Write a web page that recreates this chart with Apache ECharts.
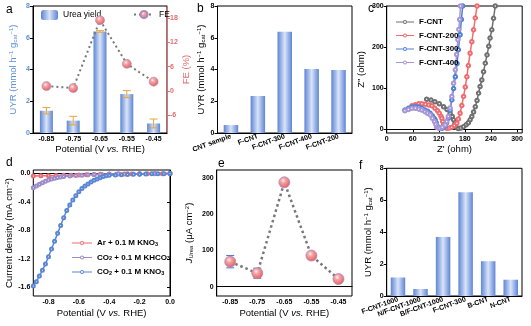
<!DOCTYPE html>
<html>
<head>
<meta charset="utf-8">
<script src="https://cdn.jsdelivr.net/npm/echarts@6/dist/echarts.min.js"></script>
<style>
  html, body { margin: 0; padding: 0; background: #fff; }
  #chart { width: 531px; height: 326px; }
</style>
</head>
<body>
<div id="chart"></div>
<script>
// ---------- data ----------
// (a) urea yield rate and Faradaic efficiency vs. potential on F-CNT-300
const potentials = ['-0.85', '-0.75', '-0.65', '-0.55', '-0.45'];
const ureaYield = [1.40, 0.78, 6.40, 2.45, 0.60];
const ureaYieldErr = [0.20, 0.27, 0.05, 0.22, 0.28];
const faradaicEff = [1.2, 0.7, 17.5, 6.7, 2.3];
const faradaicErr = [0.4, 0.4, 0.5, 0.4, 0.4];
const feTicks = [-6, 0, 6, 12, 18];

// (b) urea yield rate of the CNT series at -0.65 V
const samplesB = ['CNT sample', 'F-CNT', 'F-CNT-300', 'F-CNT-400', 'F-CNT-200'];
const uyrB = [0.50, 2.33, 6.38, 4.03, 3.97];

// (c) Nyquist plots, [Z', Z'']
const nyqFCNT = [[92,73],[102,71],[111,67],[121,62],[131,55],[139,48],[146,39],[151,31],[154,23],[157,14],[158,8],[161,4],[165,2],[171,3],[177,6.5],[183,11],[188,16],[192,23],[196,31],[200,42],[204,55],[208,70],[211.5,88],[215,104],[219,120],[223,140],[227,161],[231,181],[235,202],[238,222],[242,242],[246,270],[250,300]];
const nyqFCNT200 = [[58,57],[66,60],[74,62],[81,62],[89,61],[97,59],[104,57],[111,51],[117,45],[121,39],[125,32],[127,27],[129,19],[131,10.5],[134,5],[138.5,2.4],[144,3],[150,5],[156,9],[161.5,14.6],[165,25],[169,39],[173,58],[177,80],[181,103],[184.6,128],[188,155],[192,185],[196,213],[200,242],[204,271],[208,300]];
const nyqFCNT300 = [[42,47],[50,51],[58,54],[66,55],[74,54],[81,51],[88,47],[94,44],[100,39],[105,33],[109,27],[111.5,23],[114,16],[117.7,6.5],[122,3],[127,2.4],[131,4],[134.6,8],[138,16],[142,27],[146,46],[150,71.5],[154,99],[158,128],[162,160],[165,193.5],[169,230],[172,267],[175,300]];
const nyqFCNT400 = [[42,45],[50,48],[58,51],[66,51],[74,49],[81,47],[88,43],[94,39],[100,35],[105,27],[110,19],[113,12],[115,5],[119,3],[123,2.4],[128,5],[134.6,10.6],[138,19],[142,31],[146,52],[150,79.7],[154,112],[158,144.7],[161,182],[164,218],[166,243],[168,267],[170,300]];
const zReTicks = [0, 60, 120, 180, 240, 300];
const zImTicks = [0, 100, 200, 300];

// (d) LSV curves, [potential, current density]
const lsvAr = [[-0.9,-0.035],[-0.85,-0.032],[-0.8,-0.03],[-0.75,-0.028],[-0.7,-0.025],[-0.65,-0.022],[-0.6,-0.02],[-0.55,-0.017],[-0.5,-0.014],[-0.45,-0.012],[-0.4,-0.01],[-0.35,-0.008],[-0.3,-0.006],[-0.25,-0.005],[-0.2,-0.004],[-0.15,-0.003],[-0.1,-0.002],[-0.05,-0.001],[0,0]];
const lsvKHCO3 = [[-0.9,-0.2],[-0.88,-0.175],[-0.86,-0.15],[-0.84,-0.128],[-0.82,-0.108],[-0.8,-0.092],[-0.78,-0.078],[-0.76,-0.066],[-0.74,-0.056],[-0.72,-0.048],[-0.7,-0.042],[-0.66,-0.034],[-0.62,-0.028],[-0.58,-0.022],[-0.54,-0.018],[-0.5,-0.014],[-0.46,-0.01],[-0.4,-0.006],[-0.34,-0.004],[-0.28,-0.002],[-0.2,-0.001],[-0.1,0],[0,0]];
const lsvKNO3 = [[-0.9,-1.58],[-0.88,-1.52],[-0.86,-1.44],[-0.84,-1.36],[-0.82,-1.27],[-0.8,-1.17],[-0.78,-1.06],[-0.76,-0.95],[-0.74,-0.84],[-0.72,-0.73],[-0.7,-0.62],[-0.68,-0.52],[-0.66,-0.44],[-0.64,-0.37],[-0.62,-0.31],[-0.6,-0.255],[-0.58,-0.21],[-0.56,-0.175],[-0.54,-0.145],[-0.52,-0.12],[-0.5,-0.095],[-0.48,-0.075],[-0.46,-0.058],[-0.44,-0.043],[-0.42,-0.032],[-0.4,-0.025],[-0.36,-0.02],[-0.32,-0.015],[-0.28,-0.012],[-0.24,-0.01],[-0.2,-0.008],[-0.16,-0.006],[-0.12,-0.004],[-0.08,-0.003],[-0.04,-0.001],[0,0]];
const potTicks = [-0.8, -0.6, -0.4, -0.2, 0];
const currentTicks = [-1.6, -1.2, -0.8, -0.4, 0];

// (e) partial current density of urea
const jUrea = [69, 37, 289, 86, 21];
const jUreaErr = [17, 14, 4, 4, 3];
const jTicks = [0, 100, 200, 300];

// (f) urea yield rate of doped CNTs
const samplesF = ['F-CNT-1000', 'N/F-CNT-1000', 'B/F-CNT-1000', 'F-CNT-300', 'B-CNT', 'N-CNT'];
const uyrF = [1.16, 0.44, 3.70, 6.50, 2.18, 1.02];

// ---------- styles ----------
const FONT = '"Liberation Sans", Arial, sans-serif';
const BLUE_AX = '#5b8ed8';
const RED_AX = '#e46c6c';

const barFill = {
  type: 'linear', x: 0, y: 0, x2: 1, y2: 0,
  colorStops: [
    { offset: 0, color: '#5d85d5' },
    { offset: 0.5, color: '#d9e4f8' },
    { offset: 1, color: '#5d85d5' }
  ]
};
const sphere = {
  type: 'radial', x: 0.4, y: 0.35, r: 0.7,
  colorStops: [
    { offset: 0, color: '#fff0f0' },
    { offset: 0.3, color: '#f5a2a2' },
    { offset: 1, color: '#e0575c' }
  ]
};

// legend glyph: short line segments with a small hollow ring in the middle
function lineRingIcon(w) {
  const c = w / 2;
  return 'path://' +
    'M0,2.4 H' + (c - 2) + ' V3.6 H0 Z ' +
    'M' + (c + 2) + ',2.4 H' + w + ' V3.6 H' + (c + 2) + ' Z ' +
    'M' + (c + 2) + ',3 A2,2 0 1 1 ' + (c - 2) + ',3 A2,2 0 1 1 ' + (c + 2) + ',3 Z ' +
    'M' + (c + 1) + ',3 A1,1 0 1 0 ' + (c - 1) + ',3 A1,1 0 1 0 ' + (c + 1) + ',3 Z';
}

function rich(color) {
  return {
    n: { fontSize: 9.5, fontFamily: FONT, color: color },
    it: { fontSize: 9.5, fontFamily: FONT, fontStyle: 'italic', color: color },
    sup: { fontSize: 6, fontFamily: FONT, color: color, verticalAlign: 'top', lineHeight: 8 },
    sub: { fontSize: 6, fontFamily: FONT, color: color, verticalAlign: 'bottom', lineHeight: 6 }
  };
}
const uyrName = '{n|UYR (mmol h}{sup|−1}{n| g}{sub|cat}{sup|−1}{n|)}';
const potName = '{n|Potential (V }{it|vs.}{n| RHE)}';

function tickLabel(color, extra) {
  return Object.assign({ fontSize: 7, fontWeight: 'bold', fontFamily: FONT, color: color || '#000', margin: 3 }, extra || {});
}
const blackLine = { lineStyle: { color: '#000', width: 1 } };
const outTick = { inside: false, length: 3, lineStyle: { color: '#000', width: 1 } };

function catAxis(grid, data, extra) {
  return Object.assign({
    type: 'category', gridIndex: grid, data: data, boundaryGap: true,
    axisLine: blackLine, axisTick: Object.assign({ alignWithLabel: true }, outTick),
    axisLabel: tickLabel('#000', { interval: 0 }), splitLine: { show: false }
  }, extra || {});
}
function valAxis(grid, extra) {
  return Object.assign({
    type: 'value', gridIndex: grid,
    axisLine: Object.assign({ show: true }, blackLine), axisTick: Object.assign({ show: true }, outTick),
    axisLabel: tickLabel(), splitLine: { show: false }
  }, extra || {});
}

function errorBars(color, capHalf) {
  return function (params, api) {
    const x = api.value(0), v = api.value(1), e = api.value(2);
    const hi = api.coord([x, v + e]), lo = api.coord([x, v - e]);
    const style = { stroke: color, lineWidth: 1 };
    return {
      type: 'group', children: [
        { type: 'line', shape: { x1: hi[0], y1: hi[1], x2: lo[0], y2: lo[1] }, style: style },
        { type: 'line', shape: { x1: hi[0] - capHalf, y1: hi[1], x2: hi[0] + capHalf, y2: hi[1] }, style: style },
        { type: 'line', shape: { x1: lo[0] - capHalf, y1: lo[1], x2: lo[0] + capHalf, y2: lo[1] }, style: style }
      ]
    };
  };
}

function nyquist(name, data, color) {
  return {
    name: name, type: 'line', xAxisIndex: 2, yAxisIndex: 3, data: data,
    symbol: 'emptyCircle', symbolSize: 3.5, showSymbol: true,
    lineStyle: { color: color, width: 1.5 }, itemStyle: { color: color, borderWidth: 1 },
    clip: true
  };
}
function lsv(name, data, color) {
  return {
    name: name, type: 'line', xAxisIndex: 3, yAxisIndex: 4, data: data,
    symbol: 'emptyCircle', symbolSize: 3, showSymbol: true,
    lineStyle: { color: color, width: 1.5 }, itemStyle: { color: color, borderWidth: 1 }
  };
}

const grids = [
  { left: 33, top: 6, width: 134, height: 127 },
  { left: 217.5, top: 6, width: 134.5, height: 127 },
  { left: 386.7, top: 6, width: 135.5, height: 127 },
  { left: 33.3, top: 170, width: 136.7, height: 126 },
  { left: 216.7, top: 170, width: 135.3, height: 126 },
  { left: 386.7, top: 168.3, width: 135.3, height: 127.7 }
].map(g => Object.assign({ show: true, borderColor: '#000', borderWidth: 1, backgroundColor: 'transparent' }, g));

const panelLetters = [['a', 6, 4], ['b', 197, 3], ['c', 368, 3], ['d', 6, 157], ['e', 218, 158], ['f', 359, 160]];

const subRich = {
  n: { fontSize: 8, fontWeight: 'bold', fontFamily: FONT, color: '#000' },
  s: { fontSize: 5.5, fontWeight: 'bold', fontFamily: FONT, color: '#000', verticalAlign: 'bottom', lineHeight: 6 }
};
// "KNO3" -> KNO{s|3}; "CO2" -> CO{s|2}
function chemLabel(name) {
  return name.split(' ').map(function (w) {
    const m = w.match(/^([A-Za-z]+)(\d)$/);
    return m ? '{n|' + m[1] + '}{s|' + m[2] + '}' : '{n|' + w + '}';
  }).join('{n| }');
}

const option = {
  backgroundColor: '#fff',
  animation: false,
  textStyle: { fontFamily: FONT },
  grid: grids,
  graphic: panelLetters.map(p => ({
    type: 'text', left: p[1], top: p[2],
    style: { text: p[0], fontSize: 12, fontFamily: FONT, fill: '#000' }
  })),
  legend: [
    {
      data: ['Urea yield'], left: 36, top: 5, itemWidth: 17, itemHeight: 10, selectedMode: false,
      textStyle: { fontSize: 8.5, fontFamily: FONT, color: '#000' }
    },
    {
      data: ['FE'], left: 128, top: 5, itemWidth: 20, itemHeight: 9, selectedMode: false,
      textStyle: { fontSize: 8.5, fontFamily: FONT, color: '#000' }
    },
    {
      data: ['F-CNT', 'F-CNT-200', 'F-CNT-300', 'F-CNT-400'], orient: 'vertical', left: 391, top: 13,
      icon: lineRingIcon(18), itemWidth: 18, itemHeight: 4, itemGap: 5.5, selectedMode: false,
      textStyle: { fontSize: 8, fontWeight: 'bold', fontFamily: FONT, color: '#000' }
    },
    {
      data: ['Ar + 0.1 M KNO3', 'CO2 + 0.1 M KHCO3', 'CO2 + 0.1 M KNO3'], orient: 'vertical', left: 67, top: 234,
      icon: lineRingIcon(20), itemWidth: 20, itemHeight: 4, itemGap: 6.5, selectedMode: false,
      formatter: chemLabel,
      textStyle: { fontSize: 8, fontWeight: 'bold', fontFamily: FONT, color: '#000', rich: subRich }
    }
  ],
  xAxis: [
    catAxis(0, potentials, {
      name: potName, nameLocation: 'middle', nameGap: 11,
      nameTextStyle: { rich: rich('#000') }
    }),
    catAxis(1, samplesB, {
      axisLabel: tickLabel('#000', { rotate: 20, fontSize: 7, margin: 3, interval: 0 })
    }),
    valAxis(2, {
      min: 0, max: 312,
      axisLabel: tickLabel('#000', { customValues: zReTicks }),
      axisTick: Object.assign({ customValues: zReTicks }, outTick),
      name: "Z' (ohm)", nameLocation: 'middle', nameGap: 9,
      nameTextStyle: { fontSize: 9.5, fontFamily: FONT, color: '#000' }
    }),
    valAxis(3, {
      min: -0.9, max: 0,
      axisLabel: tickLabel('#000', { customValues: potTicks, formatter: v => v.toFixed(1) }),
      axisTick: Object.assign({ customValues: potTicks }, outTick),
      name: potName, nameLocation: 'middle', nameGap: 12,
      nameTextStyle: { rich: rich('#000') }
    }),
    catAxis(4, potentials, {
      name: potName, nameLocation: 'middle', nameGap: 12,
      nameTextStyle: { rich: rich('#000') }
    }),
    catAxis(5, samplesF, {
      axisLabel: tickLabel('#000', { rotate: 20, fontSize: 7, margin: 3, interval: 0 })
    })
  ],
  yAxis: [
    valAxis(0, {
      min: 0, max: 8, interval: 2,
      axisLabel: tickLabel(BLUE_AX),
      name: uyrName, nameLocation: 'middle', nameGap: 15, nameRotate: 90,
      nameTextStyle: { rich: rich(BLUE_AX) }
    }),
    valAxis(0, {
      position: 'right', min: -10.4, max: 21,
      axisLine: { show: true, lineStyle: { color: RED_AX, width: 1 } },
      axisTick: { show: true, inside: false, length: 3, customValues: feTicks, lineStyle: { color: RED_AX } },
      axisLabel: tickLabel(RED_AX, { customValues: feTicks }),
      name: 'FE (%)', nameLocation: 'middle', nameGap: 11, nameRotate: 90,
      nameTextStyle: { fontSize: 9.5, fontFamily: FONT, color: RED_AX }
    }),
    valAxis(1, {
      min: 0, max: 8, interval: 2,
      name: uyrName, nameLocation: 'middle', nameGap: 10, nameRotate: 90,
      nameTextStyle: { rich: rich('#000') }
    }),
    valAxis(2, {
      min: -9, max: 300,
      axisLabel: tickLabel('#000', { customValues: zImTicks }),
      axisTick: Object.assign({ customValues: zImTicks }, outTick),
      name: 'Z" (ohm)', nameLocation: 'middle', nameGap: 20, nameRotate: 90,
      nameTextStyle: { fontSize: 9.5, fontFamily: FONT, color: '#000' }
    }),
    valAxis(3, {
      min: -1.72, max: 0.05,
      axisLabel: tickLabel('#000', { customValues: currentTicks, formatter: v => v.toFixed(1) }),
      axisTick: Object.assign({ customValues: currentTicks }, outTick),
      name: '{n|Current density (mA cm}{sup|−2}{n|)}', nameLocation: 'middle', nameGap: 19, nameRotate: 90,
      nameTextStyle: { rich: rich('#000') }
    }),
    valAxis(4, {
      min: -26, max: 323,
      axisLabel: tickLabel('#000', { customValues: jTicks }),
      axisTick: Object.assign({ customValues: jTicks }, outTick),
      name: '{it|J}{sub|Urea}{n| (μA cm}{sup|−2}{n|)}', nameLocation: 'middle', nameGap: 22, nameRotate: 90,
      nameTextStyle: { rich: rich('#000') }
    }),
    valAxis(5, {
      min: 0, max: 8, interval: 2,
      name: uyrName, nameLocation: 'middle', nameGap: 13, nameRotate: 90,
      nameTextStyle: { rich: rich('#000') }
    })
  ],
  series: [
    // (a)
    {
      name: 'Urea yield', type: 'bar', xAxisIndex: 0, yAxisIndex: 0, data: ureaYield,
      barWidth: 13, itemStyle: { color: barFill }
    },
    {
      type: 'custom', xAxisIndex: 0, yAxisIndex: 0, z: 3,
      data: ureaYield.map((v, i) => [i, v, ureaYieldErr[i]]),
      encode: { x: 0, y: 1 }, renderItem: errorBars('#e6a63a', 4)
    },
    {
      type: 'custom', xAxisIndex: 0, yAxisIndex: 1, z: 3,
      data: faradaicEff.map((v, i) => [i, v, faradaicErr[i]]),
      encode: { x: 0, y: 1 }, renderItem: errorBars('#4a6fc4', 3.5)
    },
    {
      name: 'FE', type: 'line', xAxisIndex: 0, yAxisIndex: 1, data: faradaicEff, z: 4,
      symbol: 'circle', symbolSize: 9,
      lineStyle: { color: '#777', width: 2, type: [2, 3] },
      itemStyle: { color: sphere, borderColor: '#a98cc0', borderWidth: 0.6 }
    },
    // (b)
    {
      name: 'UYR b', type: 'bar', xAxisIndex: 1, yAxisIndex: 2, data: uyrB,
      barWidth: 14.5, itemStyle: { color: barFill }
    },
    // (c)
    nyquist('F-CNT', nyqFCNT, '#6f6f6f'),
    nyquist('F-CNT-200', nyqFCNT200, '#ef6b6e'),
    nyquist('F-CNT-300', nyqFCNT300, '#4f80d8'),
    nyquist('F-CNT-400', nyqFCNT400, '#a796d6'),
    // (d)
    lsv('Ar + 0.1 M KNO3', lsvAr, '#ef6b6e'),
    lsv('CO2 + 0.1 M KHCO3', lsvKHCO3, '#9d8cc8'),
    lsv('CO2 + 0.1 M KNO3', lsvKNO3, '#5a86d6'),
    // (e)
    {
      type: 'custom', xAxisIndex: 4, yAxisIndex: 5, z: 3,
      data: jUrea.map((v, i) => [i, v, jUreaErr[i]]),
      encode: { x: 0, y: 1 }, renderItem: errorBars('#4a6fc4', 4)
    },
    {
      name: 'J urea', type: 'line', xAxisIndex: 4, yAxisIndex: 5, data: jUrea, z: 4,
      symbol: 'circle', symbolSize: 11,
      lineStyle: { color: '#777', width: 2.5, type: [2.5, 3] },
      itemStyle: { color: sphere, borderColor: '#a98cc0', borderWidth: 0.8 }
    },
    // (f)
    {
      name: 'UYR f', type: 'bar', xAxisIndex: 5, yAxisIndex: 6, data: uyrF,
      barWidth: 14.5, itemStyle: { color: barFill }
    }
  ]
};

const chart = echarts.init(document.getElementById('chart'), null, { renderer: 'canvas' });
chart.setOption(option);
</script>
</body>
</html>
